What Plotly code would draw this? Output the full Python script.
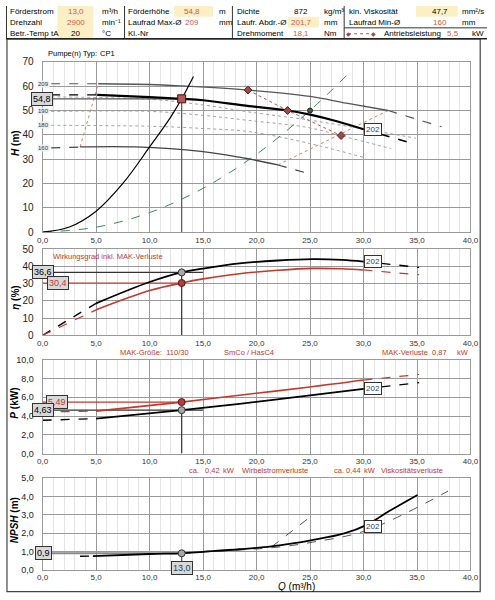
import plotly.graph_objects as go

# ---------------- Daten ----------------
Q_OP = 13.0
H_OP = 54.8
ETA_OP = 36.6
ETA_MAK_OP = 30.4
P_OP = 4.63
P_MAK_OP = 5.49
NPSH_OP = 0.9

# Q-H Kennlinien
q_209 = [5.2, 10.0, 13.0, 19.2, 25.0, 28.4, 32.3]
h_209 = [61.0, 60.7, 60.1, 58.4, 55.8, 53.0, 50.0]
q_209_lo = [0.8, 5.2]
h_209_lo = [61.0, 61.0]
q_209_hi = [32.3, 37.3]
h_209_hi = [50.0, 43.3]

q_202 = [5.1, 10.0, 13.0, 15.0, 19.3, 22.9, 25.0, 27.5, 30.0]
h_202 = [56.4, 55.5, 54.8, 54.2, 51.8, 50.0, 48.3, 45.6, 42.3]
q_202_lo = [0.8, 5.1]
h_202_lo = [56.4, 56.4]
q_202_hi = [30.0, 34.8]
h_202_hi = [42.3, 36.2]

q_160 = [3.5, 8.7, 14.8, 18.4, 22.0]
h_160 = [35.0, 35.0, 33.2, 30.8, 27.6]
q_160_lo = [0.8, 3.5]
h_160_lo = [34.6, 35.0]
q_160_hi = [22.0, 25.1]
h_160_hi = [27.6, 23.8]

q_200 = [0.8, 10.0, 15.0, 19.3, 25.0, 30.0, 34.9]
h_200 = [55.6, 54.6, 52.3, 49.4, 46.0, 42.4, 38.6]
q_190 = [0.8, 10.2, 15.0, 19.3, 24.8, 28.0, 32.6]
h_190 = [49.6, 49.6, 48.0, 45.9, 43.0, 39.5, 34.3]
q_180 = [0.8, 10.2, 15.0, 19.3, 24.8, 30.2]
h_180 = [43.9, 43.5, 42.6, 41.3, 36.6, 30.5]

# Grenzen (rot gepunktet)
q_grenze_li = [3.5, 5.2]
h_grenze_li = [35.0, 61.0]
q_grenze_re = [22.0, 32.3]
h_grenze_re = [27.6, 50.0]
q_antrieb = [19.2, 22.9, 27.9]
h_antrieb = [58.4, 50.0, 39.7]

# Anlagenkennlinien
q_anlage = [0, 2.5, 5.0, 7.5, 10.0, 12.0, 13.0, 14.1]
h_anlage = [0, 2.1, 8.6, 20.0, 35.0, 47.5, 54.8, 64.0]
q_anlage2 = [0, 5, 10, 15, 20, 25, 28.6]
h_anlage2 = [0, 2.0, 8.0, 18.0, 32.0, 50.0, 65.2]

# Wirkungsgrad
q_eta = [5, 10, 13, 15, 18.4, 22, 25.2, 28, 30]
eta = [18.6, 31.0, 36.6, 38.8, 41.8, 43.5, 44.3, 43.9, 42.9]
eta_mak = [14.8, 26.0, 30.4, 32.8, 35.8, 37.8, 38.9, 38.7, 38.0]
q_eta_lo = [0, 5]
eta_lo = [0, 18.6]
eta_mak_lo = [0, 14.8]
q_eta_hi = [30, 35.2]
eta_hi = [42.9, 39.5]
eta_mak_hi = [38.0, 35.2]

# Leistung
q_p = [5, 13, 18.4, 25, 30]
p = [3.73, 4.63, 5.30, 6.20, 6.90]
p_mak = [4.53, 5.49, 6.22, 7.10, 7.84]
q_p_lo = [0, 5]
p_lo = [3.55, 3.73]
p_mak_lo = [4.43, 4.53]
q_p_hi = [30, 35.2]
p_hi = [6.90, 7.56]
p_mak_hi = [7.84, 8.43]

# NPSH
q_npsh = [4.7, 10, 13, 15, 18.4, 21.4, 25.2, 28.2, 30.3, 32.4, 35.05]
npsh = [0.75, 0.86, 0.9, 0.98, 1.12, 1.28, 1.62, 1.98, 2.45, 3.2, 4.08]
q_npsh_lo = [3.5, 4.7]
npsh_lo = [0.74, 0.75]
q_npsh_d1 = [21.4, 25.1]
npsh_d1 = [1.25, 2.92]
q_npsh_d2 = [13, 18.4, 21.4, 25.2, 30.3, 37.9]
npsh_d2 = [0.9, 1.08, 1.2, 1.5, 2.15, 4.29]

RED = "#c0392b"
VAL_RED = "#d0584a"
YELLOW = "#fbefc6"
W, H = 495, 600


def px(x):
    return x / W


def py(y):
    return 1 - y / H


fig = go.Figure()


def linie(x, y, ax, color="black", width=1.0, dash="solid", spline=True):
    fig.add_trace(go.Scatter(x=x, y=y, mode="lines", xaxis="x" + ax, yaxis="y" + ax,
                             line=dict(color=color, width=width, dash=dash,
                                       shape="spline" if spline else "linear"),
                             hoverinfo="skip", showlegend=False))


def punkt(x, y, ax, fill, edge, size=7, symbol="circle"):
    fig.add_trace(go.Scatter(x=x, y=y, mode="markers", xaxis="x" + ax, yaxis="y" + ax,
                             marker=dict(color=fill, size=size, symbol=symbol,
                                         line=dict(color=edge, width=1)),
                             hoverinfo="skip", showlegend=False))


# ---- Panel 1: H ----
for qq, hh in [(q_200, h_200), (q_190, h_190), (q_180, h_180)]:
    linie(qq, hh, "", "#a0a0a0", 1, "dot")
linie(q_anlage2, h_anlage2, "", "#3a8a5a", 1, "dash")
linie(q_grenze_li, h_grenze_li, "", "#d08070", 1, "dot", False)
linie(q_grenze_re, h_grenze_re, "", "#d08070", 1, "dot", False)
linie(q_209_lo, h_209_lo, "", "#555555", 1.2, "dash", False)
linie(q_209, h_209, "", "#555555", 1.3)
linie(q_209_hi, h_209_hi, "", "#555555", 1.2, "dash", False)
linie(q_160_lo, h_160_lo, "", "#444444", 1.2, "dash", False)
linie(q_160, h_160, "", "#444444", 1.3)
linie(q_160_hi, h_160_hi, "", "#444444", 1.2, "dash", False)
linie(q_anlage, h_anlage, "", "black", 1.2)
linie([0, Q_OP], [H_OP, H_OP], "", "#555555", 1.2, spline=False)
linie([Q_OP, Q_OP], [0, H_OP], "", "#555555", 1.2, spline=False)
linie(q_202_lo, h_202_lo, "", "black", 1.3, "dash", False)
linie(q_202, h_202, "", "black", 2.2)
linie(q_202_hi, h_202_hi, "", "black", 1.6, "dash", False)
linie(q_antrieb, h_antrieb, "", "#c05050", 1, "dot", False)
punkt(q_antrieb, h_antrieb, "", "#a04848", "#5a1a1a", 6, "diamond")
punkt([q_anlage2[5]], [h_anlage2[5]], "", "#4a5a4a", "#222222", 5)
punkt([Q_OP], [H_OP], "", "#b05a5a", "#4a1010", 8, "square")

# ---- Panel 2: eta ----
linie(q_eta_lo, eta_lo, "2", "black", 1.4, "dash", False)
linie(q_eta_lo, eta_mak_lo, "2", RED, 1.2, "dash", False)
linie([0, 15], [ETA_OP, ETA_OP], "2", "#333333", 1.2, spline=False)
linie([0, Q_OP], [ETA_MAK_OP, ETA_MAK_OP], "2", RED, 1.2, spline=False)
linie([Q_OP, Q_OP], [0, ETA_OP], "2", "#333333", 1.2, spline=False)
linie(q_eta, eta, "2", "black", 1.8)
linie(q_eta_hi, eta_hi, "2", "black", 1.4, "dash", False)
linie(q_eta, eta_mak, "2", RED, 1.6)
linie(q_eta_hi, eta_mak_hi, "2", RED, 1.2, "dash", False)
punkt([Q_OP], [ETA_OP], "2", "#a8a8a8", "#333333", 7)
punkt([Q_OP], [ETA_MAK_OP], "2", "#b04040", "#601010", 7)

# ---- Panel 3: P ----
linie(q_p_lo, p_lo, "3", "black", 1.4, "dash", False)
linie(q_p_lo, p_mak_lo, "3", RED, 1.2, "dash", False)
linie([0, 15], [P_OP, P_OP], "3", "#333333", 1.2, spline=False)
linie([0, Q_OP], [P_MAK_OP, P_MAK_OP], "3", RED, 1.2, spline=False)
linie([Q_OP, Q_OP], [0, P_OP], "3", "#333333", 1.2, spline=False)
linie(q_p, p, "3", "black", 1.8)
linie(q_p_hi, p_hi, "3", "black", 1.4, "dash", False)
linie(q_p, p_mak, "3", RED, 1.6)
linie(q_p_hi, p_mak_hi, "3", RED, 1.2, "dash", False)
punkt([Q_OP], [P_MAK_OP], "3", "#b04040", "#601010", 7)
punkt([Q_OP], [P_OP], "3", "#a8a8a8", "#333333", 7)

# ---- Panel 4: NPSH ----
linie([0, Q_OP], [NPSH_OP, NPSH_OP], "4", "#8a8a8a", 2, spline=False)
linie([Q_OP, Q_OP], [-0.4, NPSH_OP], "4", "#555555", 1.2, spline=False)
linie(q_npsh_d1, npsh_d1, "4", "#555555", 1, "dash", False)
linie(q_npsh_d2, npsh_d2, "4", "#555555", 1, "dash")
linie(q_npsh_lo, npsh_lo, "4", "black", 1.4, "dash", False)
linie(q_npsh, npsh, "4", "black", 1.8)
punkt([Q_OP], [NPSH_OP], "4", "#a8a8a8", "#333333", 7)

# ---- Achsen ----
x_dom = [px(37.7), px(478)]
panels = [
    ("", [py(230.7), py(57)], [0, 70], 10, "d", 10),
    ("2", [py(336), py(248.3)], [0, 50], 10, "d", 10),
    ("3", [py(456.7), py(361)], [0, 10], 2, ".1f", 9),
    ("4", [py(575.3), py(481.7)], [0, 5], 1, ".1f", 9),
]
lay = {}
for k, dom, yr, dt, fmt, fs in panels:
    lay["xaxis" + k] = dict(domain=x_dom, range=[0, 40], dtick=5, tick0=0, tickformat=".1f",
                            anchor="y" + k, showgrid=True, gridcolor="#9a9a9a", gridwidth=1,
                            minor=dict(dtick=1, showgrid=True, gridcolor="#e4e4e4"),
                            showline=True, mirror=True, linecolor="#9a9a9a", zeroline=False,
                            ticks="", tickfont=dict(size=8, color="#333333"), fixedrange=True)
    lay["yaxis" + k] = dict(domain=dom, range=yr, dtick=dt, tick0=0, tickformat=fmt,
                            anchor="x" + k, showgrid=True, gridcolor="#9a9a9a", gridwidth=1,
                            showline=True, mirror=True, linecolor="#9a9a9a", zeroline=False,
                            ticks="", ticklabelstandoff=6,
                            tickfont=dict(size=fs, color="#222222"), fixedrange=True)
fig.update_layout(**lay)

shapes = []
ann = []


def text(x, y, t, size=8, color="black", xanchor="left", **kw):
    ann.append(dict(x=px(x), y=py(y), xref="paper", yref="paper", text=t, showarrow=False,
                    xanchor=xanchor, yanchor="middle", font=dict(size=size, color=color), **kw))


def rect(x0, y0, x1, y1, fill=None, line="#333333", lw=1):
    shapes.append(dict(type="rect", xref="paper", yref="paper", x0=px(x0), x1=px(x1),
                       y0=py(y0), y1=py(y1), fillcolor=fill or "rgba(0,0,0,0)",
                       line=dict(color=line, width=lw), layer="below"))


def hline(x0, x1, y, color="#333333", lw=1):
    shapes.append(dict(type="line", xref="paper", yref="paper", x0=px(x0), x1=px(x1),
                       y0=py(y), y1=py(y), line=dict(color=color, width=lw)))


def vline(x, y0, y1, color="#333333", lw=1):
    shapes.append(dict(type="line", xref="paper", yref="paper", x0=px(x), x1=px(x),
                       y0=py(y0), y1=py(y1), line=dict(color=color, width=lw)))


# ---- Kopf-Tabelle ----
rect(53, 0, 90, 33, YELLOW, YELLOW, 0)
rect(173, 0, 213, 11, YELLOW, YELLOW, 0)
rect(290, 11, 322, 22, YELLOW, YELLOW, 0)
rect(422, 0, 465, 11, YELLOW, YELLOW, 0)
for xv in [122, 233, 348]:
    vline(xv, 0, 33.5, "#333333", 1)
hline(0, 495, 33.5, "#222222", 1.5)
hline(348, 495, 22.3, "#333333", 1)
vline(0.5, 0, 33.5, "#333333", 1)

rows = [5.7, 16.7, 28.3]
kopf = [
    (2, ["Förderstrom", "Drehzahl", "Betr.-Temp tA"]),
    (124, ["Förderhöhe", "Laufrad Max-Ø", "Kl.-Nr"]),
    (236, ["Dichte", "Laufr. Abdr.-Ø", "Drehmoment"]),
    (351, ["kin. Viskosität", "Laufrad Min-Ø", ""]),
]
for xk, labels in kopf:
    for r, lab in zip(rows, labels):
        if lab:
            text(xk, r, lab)
werte = [
    (72, ["13,0", "2900", "20"], [VAL_RED, VAL_RED, "black"]),
    (191, ["54,8", "209", ""], [VAL_RED, VAL_RED, "black"]),
    (304, ["872", "201,7", "18,1"], ["black", VAL_RED, VAL_RED]),
    (447, ["47,7", "160", ""], ["black", VAL_RED, "black"]),
]
for xw, vals, cols in werte:
    for r, v, c in zip(rows, vals, cols):
        if v:
            text(xw, r, v, 8, c, "center")
einheiten = [
    (97, ["m³/h", "min⁻¹", "°C"]),
    (217, ["m", "mm", ""]),
    (325, ["kg/m³", "mm", "Nm"]),
    (467, ["mm²/s", "mm", ""]),
]
for xe, units in einheiten:
    for r, u in zip(rows, units):
        if u:
            text(xe, r, u)
# Legende Antriebsleistung
shapes.append(dict(type="line", xref="paper", yref="paper", x0=px(352), x1=px(378),
                   y0=py(28.3), y1=py(28.3), line=dict(color="#c05050", width=1, dash="dot")))
for xd in [352, 378]:
    text(xd, 28.3, "◆", 6, "#a04848", "center")
text(387, 28.3, "Antriebsleistung")
text(460, 28.3, "5,5", 8, VAL_RED, "center")
text(477, 28.3, "kW")

# Rahmen
rect(1, 33.5, 488, 597.5, None, "#444444", 1.2)

text(41, 48.5, "Pumpe(n) Typ:", 7.5)
text(95, 48.5, "CP1", 7.5)

# Achsentitel
for yt, t in [(140, "<b><i>H</i> (m)</b>"), (298, "<b><i>η</i> (%)</b>"),
              (405, "<b><i>P</i> (kW)</b>"), (525, "<b><i>NPSH</i> (m)</b>")]:
    text(9, yt, t, 10, "black", "center", textangle=-90)
text(299, 592, "<i>Q</i> (m³/h)", 10, "black", "center")


# Wertekästchen links
def kasten(xc, yv, ax, t, color="black"):
    ann.append(dict(x=px(xc), y=yv, xref="paper", yref="y" + ax, text=t, showarrow=False,
                    xanchor="center", yanchor="middle",
                    bgcolor="#d8d8d8", bordercolor="#333333", borderwidth=1, borderpad=1,
                    font=dict(size=9, color=color)))


kasten(37.5, H_OP, "", "54,8")
kasten(38.5, ETA_OP, "2", "36,6")
kasten(53, ETA_MAK_OP, "2", "30,4", RED)
kasten(52.5, P_MAK_OP, "3", "5,49", RED)
kasten(38, P_OP, "3", "4,63")
kasten(38.5, NPSH_OP, "4", "0,9")
ann.append(dict(x=Q_OP, y=py(573), xref="x4", yref="paper", text="13,0", showarrow=False,
                xanchor="center", yanchor="middle",
                bgcolor="#d8d8d8", bordercolor="#333333", borderwidth=1, borderpad=1,
                font=dict(size=9)))

# Durchmesser-Beschriftung
for yv, t in [(61.0, "209"), (49.6, "190"), (43.9, "180"), (34.6, "160")]:
    ann.append(dict(x=px(38.5), y=yv, xref="paper", yref="y", text=t, showarrow=False,
                    xanchor="center", yanchor="middle",
                    bgcolor="#eeeeee", borderpad=0, font=dict(size=6, color="#333333")))

# 202 Kästchen
for ax, yv in [("", 42.3), ("2", 42.9), ("3", 6.9), ("4", 2.37)]:
    ann.append(dict(x=30, y=yv, xref="x" + ax, yref="y" + ax, text="202", showarrow=False,
                    xanchor="left", yanchor="middle", bgcolor="white", bordercolor="#333333",
                    borderwidth=1, borderpad=1, font=dict(size=8)))

text(105, 256, "Wirkungsgrad inkl. MAK-Verluste", 7.5, RED, "center")
text(153, 354, "MAK-Größe:  110/30", 7.5, RED, "center")
text(250, 354, "SmCo / HasC4", 7.5, RED, "center")
text(385, 354, "MAK-Verluste", 7.5, RED)
text(446, 354, "0,87", 7.5, RED, "center")
text(462, 354, "kW", 7.5, RED)
text(193, 474, "ca.", 7.5, RED, "center")
text(212, 474, "0,42", 7.5, RED, "center")
text(229, 474, "kW", 7.5, RED, "center")
text(277, 474, "Wirbelstromverluste", 7.5, RED, "center")
text(343, 474, "ca.", 7.5, RED, "center")
text(358, 474, "0,44", 7.5, RED, "center")
text(375, 474, "kW", 7.5, RED, "center")
text(418, 474, "Viskositätsverluste", 7.5, RED, "center")

fig.update_layout(width=W, height=H, margin=dict(l=0, r=0, t=0, b=0),
                  paper_bgcolor="white", plot_bgcolor="white", separators=",.",
                  font=dict(family="Liberation Sans, Arial, sans-serif", size=9),
                  shapes=shapes, annotations=ann, showlegend=False)

fig.write_html("out.html", config={"displayModeBar": False},
               post_script="document.body.style.margin='0px';")
